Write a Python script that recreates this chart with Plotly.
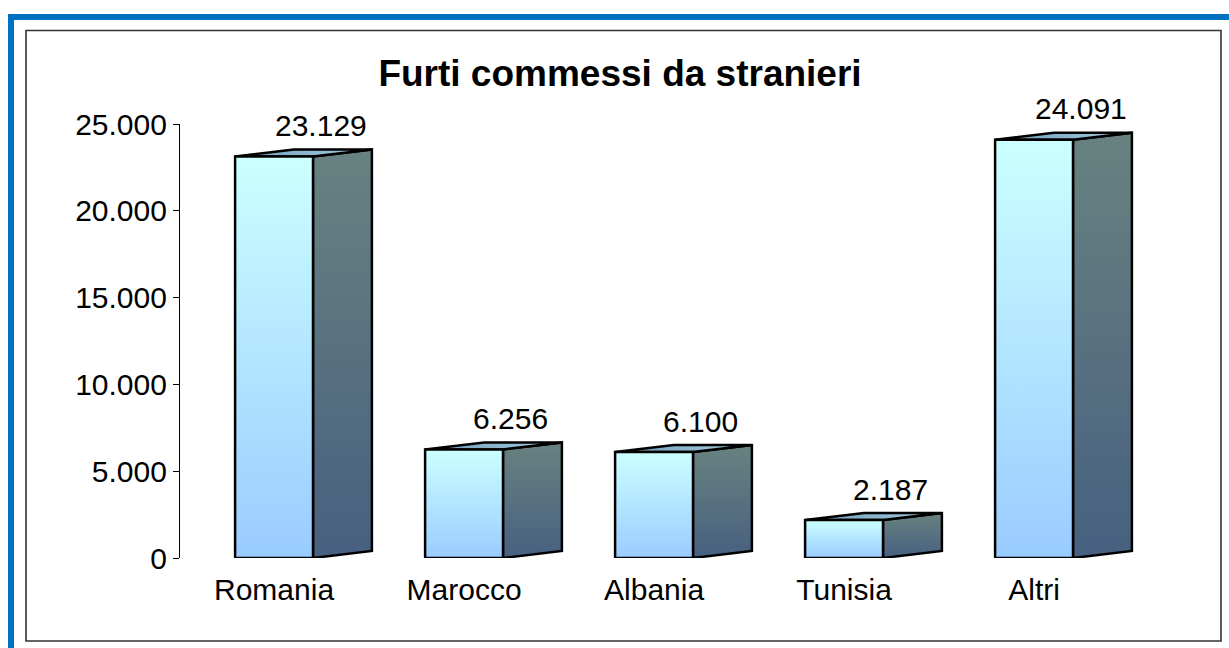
import plotly.graph_objects as go

# ---- data ----
categories = ["Romania", "Marocco", "Albania", "Tunisia", "Altri"]
values = [23129, 6256, 6100, 2187, 24091]
y_ticks = [0, 5000, 10000, 15000, 20000, 25000]
title_text = "Furti commessi da stranieri"

# ---- geometry (in axis units) ----
W, H = 1229, 648
L_PX, R_PX, T_PX, B_PX = 180, 1168, 124, 558
X0, X1 = -0.495, 4.705
Y0, Y1 = 0, 25000
half_w = 0.205          # half width of the front face
depth_x = 0.31          # 3D depth, horizontal
depth_y = 403           # 3D depth, vertical (value units)

FRONT_SCALE = [[0, "#99CCFF"], [1, "#CCFFFF"]]
SIDE_SCALE = [[0, "#476080"], [1, "#688280"]]
TOP_SCALE = [[0, "#6C9CB8"], [1, "#A8CCE0"]]
EDGE = dict(color="black", width=2.5)
FONT = "Liberation Sans, Arial"

fig = go.Figure()

for i, v in enumerate(values):
    xl, xr = i - half_w, i + half_w
    # side face
    fig.add_trace(go.Scatter(
        x=[xr, xr + depth_x, xr + depth_x, xr, xr],
        y=[0, depth_y, v + depth_y, v, 0],
        mode="lines", fill="toself", line=EDGE,
        fillgradient=dict(type="vertical", colorscale=SIDE_SCALE),
        hoverinfo="skip", showlegend=False))
    # top face
    fig.add_trace(go.Scatter(
        x=[xl, xr, xr + depth_x, xl + depth_x, xl],
        y=[v, v, v + depth_y, v + depth_y, v],
        mode="lines", fill="toself", line=EDGE,
        fillgradient=dict(type="horizontal", colorscale=TOP_SCALE),
        hoverinfo="skip", showlegend=False))
    # front face
    fig.add_trace(go.Scatter(
        x=[xl, xr, xr, xl, xl],
        y=[0, 0, v, v, 0],
        mode="lines", fill="toself", line=EDGE,
        fillgradient=dict(type="vertical", colorscale=FRONT_SCALE),
        hoverinfo="skip", showlegend=False))
    # value label
    fig.add_annotation(
        x=i + 0.247, y=v, xref="x", yref="y",
        text=f"{v:,}".replace(",", "."), showarrow=False,
        yanchor="middle", yshift=31,
        font=dict(family=FONT, size=30, color="black"))

def px_to_paper_x(px):
    return (px - L_PX) / (R_PX - L_PX)

def px_to_paper_y(py):
    return (B_PX - py) / (B_PX - T_PX)

# inner chart-area border
fig.add_shape(type="rect", xref="paper", yref="paper",
              x0=px_to_paper_x(26), x1=px_to_paper_x(1221),
              y0=px_to_paper_y(641), y1=px_to_paper_y(30.5),
              line=dict(color="#333333", width=1.6), layer="below")
# outer blue frame (top & left visible)
fig.add_shape(type="rect", xref="paper", yref="paper",
              x0=px_to_paper_x(11), x1=px_to_paper_x(1260),
              y0=px_to_paper_y(700), y1=px_to_paper_y(17),
              line=dict(color="#0070C0", width=6), layer="below")

fig.update_layout(
    width=W, height=H,
    margin=dict(l=L_PX, r=W - R_PX, t=T_PX, b=H - B_PX, pad=0),
    paper_bgcolor="white", plot_bgcolor="white",
    separators=",.",
    showlegend=False,
    font=dict(family=FONT, color="black"),
    title=dict(text=title_text, xref="container", yref="container",
               x=620 / W, y=1 - 73 / H, xanchor="center", yanchor="middle",
               font=dict(family=FONT, size=37, color="black", weight="bold")),
    xaxis=dict(range=[X0, X1], tickvals=list(range(len(categories))),
               ticktext=categories, showgrid=False, zeroline=False,
               showline=False, ticks="", ticklabelstandoff=11,
               tickfont=dict(size=30), fixedrange=True),
    yaxis=dict(range=[Y0, Y1], tickvals=y_ticks, tickformat=",d",
               showgrid=False, zeroline=False, showline=True,
               linecolor="black", linewidth=1.2, ticks="outside",
               ticklen=6, tickcolor="black", tickwidth=1.2,
               ticklabelstandoff=0,
               tickfont=dict(size=30), fixedrange=True),
)

fig.write_html(
    "out.html",
    config={"displayModeBar": False},
    post_script="document.body.style.margin='0';document.body.style.overflow='hidden';",
)
